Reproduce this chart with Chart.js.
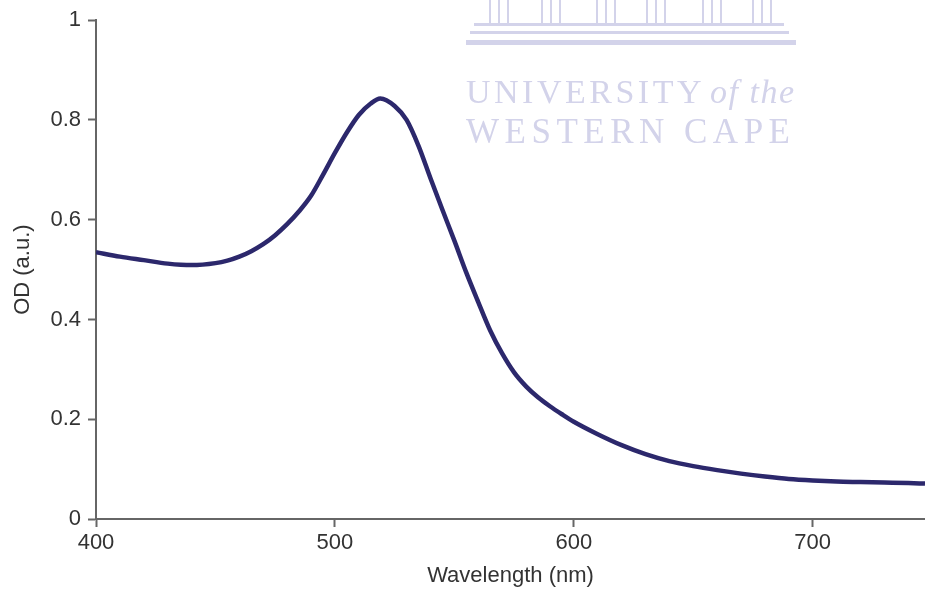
<!DOCTYPE html>
<html>
<head>
<meta charset="utf-8">
<script src="https://cdn.jsdelivr.net/npm/chart.js@4.4.1/dist/chart.umd.min.js"></script>
<style>
  html, body { margin: 0; padding: 0; background: #ffffff; }
  #wrap { width: 925px; height: 589px; position: relative; }
</style>
</head>
<body>
<div id="wrap"><canvas id="c" width="925" height="589"></canvas></div>
<script>
// Absorption spectrum: wavelength (nm) against optical density
const wavelengths = [400,410,420,430,440,450,455,460,465,470,475,480,485,490,495,500,505,510,515,519,525,530,535,540,545,550,555,560,565,570,575,580,585,590,595,600,610,620,630,640,650,660,670,680,690,700,710,720,730,740,747];
const od = [0.535,0.526,0.519,0.512,0.509,0.513,0.518,0.526,0.537,0.551,0.569,0.591,0.617,0.648,0.690,0.734,0.775,0.810,0.833,0.843,0.828,0.800,0.748,0.683,0.620,0.558,0.494,0.435,0.378,0.332,0.294,0.266,0.244,0.226,0.210,0.195,0.170,0.148,0.130,0.116,0.106,0.098,0.091,0.085,0.080,0.077,0.075,0.074,0.073,0.072,0.071];

const xTicks = [400, 500, 600, 700];
const yTicks = [0, 0.2, 0.4, 0.6, 0.8, 1];
const yTickLabels = ['0', '0.2', '0.4', '0.6', '0.8', '1'];

const FONT = '"Liberation Sans", Arial, Helvetica, sans-serif';
const AXIS = '#666666';
const TEXT = '#333333';

// Faint university crest and name printed behind the plot
const crest = {
  id: 'crest',
  beforeDatasetsDraw(chart) {
    const ctx = chart.ctx;
    ctx.save();
    const col = '#d3d3ea';
    ctx.strokeStyle = col;
    ctx.fillStyle = col;
    // columns
    ctx.lineWidth = 2;
    [490, 542, 597, 647, 703, 753].forEach(x0 => {
      [x0, x0 + 9, x0 + 18].forEach(x => {
        ctx.beginPath(); ctx.moveTo(x, 0); ctx.lineTo(x, 23); ctx.stroke();
      });
    });
    // steps
    ctx.fillRect(474, 23, 310, 3);
    ctx.fillRect(470, 31, 319, 3);
    ctx.fillRect(466, 40, 330, 5);
    // name
    ctx.textBaseline = 'alphabetic';
    const spacing = (v) => { if ('letterSpacing' in ctx) ctx.letterSpacing = v; };
    ctx.font = '34px "Liberation Serif", "Times New Roman", serif';
    spacing('3.5px');
    ctx.fillText('UNIVERSITY', 466, 103);
    ctx.font = 'italic 34px "Liberation Serif", "Times New Roman", serif';
    spacing('1.5px');
    ctx.fillText('of the', 710, 103);
    ctx.font = '35px "Liberation Serif", "Times New Roman", serif';
    spacing('5.5px');
    ctx.fillText('WESTERN CAPE', 466, 143);
    ctx.restore();
  }
};

new Chart(document.getElementById('c'), {
  type: 'line',
  data: {
    datasets: [{
      data: wavelengths.map((w, i) => ({ x: w, y: od[i] })),
      borderColor: '#2c286c',
      borderWidth: 4.5,
      pointRadius: 0,
      fill: false,
      cubicInterpolationMode: 'monotone'
    }]
  },
  options: {
    responsive: false,
    animation: false,
    devicePixelRatio: 1,
    layout: { padding: { top: 20, right: 0, left: 0, bottom: 0 } },
    plugins: { legend: { display: false }, tooltip: { enabled: false } },
    scales: {
      x: {
        type: 'linear',
        min: 400,
        max: 747,
        afterBuildTicks: s => { s.ticks = xTicks.map(v => ({ value: v })); },
        afterFit: s => { s.height = 70; },
        border: { display: true, color: AXIS, width: 2 },
        grid: { drawOnChartArea: false, drawTicks: true, tickLength: 8, color: AXIS, tickWidth: 2 },
        ticks: {
          color: TEXT, padding: 3, maxRotation: 0,
          font: { family: FONT, size: 22 }
        },
        title: {
          display: true, text: 'Wavelength (nm)', color: TEXT,
          font: { family: FONT, size: 22 }, padding: { top: 0, bottom: 0 }
        }
      },
      y: {
        type: 'linear',
        min: 0,
        max: 1,
        afterBuildTicks: s => { s.ticks = yTicks.map(v => ({ value: v })); },
        afterFit: s => { s.width = 96; },
        border: { display: true, color: AXIS, width: 2 },
        grid: { drawOnChartArea: false, drawTicks: true, tickLength: 8, color: AXIS, tickWidth: 2 },
        ticks: {
          color: TEXT, padding: 7,
          font: { family: FONT, size: 22 },
          callback: (v) => yTickLabels[yTicks.indexOf(v)]
        },
        title: {
          display: true, text: 'OD (a.u.)', color: TEXT,
          font: { family: FONT, size: 22 }, padding: { top: 10, bottom: 0 }
        }
      }
    }
  },
  plugins: [crest]
});
</script>
</body>
</html>
